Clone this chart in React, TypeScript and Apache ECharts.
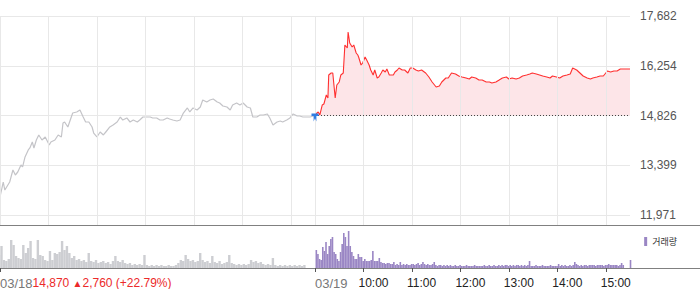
import React, { useEffect, useRef } from 'react';
import * as echarts from 'echarts';

const FONT = '"Liberation Sans", Arial, sans-serif';

// y axis (price) ticks
const yMin = 11971;
const yMax = 17682;
const yStep = 1427.75;
const yTickLabels = ['11,971', '13,399', '14,826', '16,254', '17,682'];
const basePrice = 14826.5;

// x axis: minutes from 03/18 09:00 (0..390 = 03/18, 390..780 = 03/19)
const gridMinutes = [0, 60, 120, 180, 240, 300, 360, 390, 450, 510, 570, 630, 690, 750];
const tickMinutes = [0, 390, 450, 510, 570, 630, 690, 750];
const tickLabels = ['03/18', '03/19', '10:00', '11:00', '12:00', '13:00', '14:00', '15:00'];

const priceText = '14,870 ';
const arrowText = '▲';
const changeText = '2,760 (+22.79%)';

// day 1 (03/18) price line
const day1Minutes = [0, 4, 6, 12, 16, 19, 22, 26, 28, 31, 35, 37, 40, 42, 45, 48, 52, 56, 61, 63, 68, 72, 76, 78, 80, 84, 87, 90, 95, 99, 103, 106, 110, 114, 116, 120, 124, 128, 131, 136, 140, 145, 149, 152, 157, 161, 165, 170, 173, 177, 182, 186, 189, 194, 198, 202, 207, 210, 214, 219, 223, 227, 232, 235, 239, 244, 248, 251, 256, 260, 264, 269, 272, 276, 281, 285, 288, 293, 297, 301, 306, 310, 313, 318, 322, 326, 331, 334, 338, 343, 347, 350, 355, 359, 363, 368, 371, 375, 380, 384, 388, 390];
const day1Prices = [12488, 12918, 12688, 12918, 13263, 13119, 13205, 13406, 13349, 13636, 13837, 13894, 14066, 13894, 14123, 14267, 14123, 14210, 13980, 14066, 14123, 14267, 14210, 14611, 14640, 14497, 14697, 14898, 14927, 14985, 14783, 14640, 14640, 14497, 14324, 14210, 14353, 14267, 14353, 14497, 14554, 14640, 14783, 14697, 14755, 14640, 14697, 14640, 14697, 14783, 14783, 14783, 14755, 14755, 14697, 14697, 14755, 14726, 14697, 14669, 14697, 14898, 15042, 14927, 15042, 14985, 15071, 15271, 15214, 15271, 15300, 15214, 15185, 15099, 15071, 14985, 15128, 15185, 15128, 15185, 15071, 15042, 14783, 14783, 14841, 14841, 14870, 14755, 14554, 14640, 14669, 14640, 14697, 14755, 14870, 14812, 14812, 14783, 14783, 14783, 14812, 14841];

// day 2 (03/19) price line
const day2Minutes = [391, 394, 396, 399, 401, 404, 406, 407, 410, 412, 415, 417, 420, 422, 425, 427, 430, 431, 433, 436, 438, 441, 443, 444, 447, 449, 452, 454, 457, 459, 462, 464, 467, 469, 472, 474, 477, 479, 482, 484, 487, 489, 492, 494, 498, 501, 505, 508, 511, 515, 518, 522, 527, 531, 535, 540, 544, 547, 552, 555, 559, 564, 568, 572, 577, 581, 584, 589, 593, 597, 602, 606, 609, 614, 618, 622, 627, 630, 634, 639, 643, 647, 652, 656, 659, 664, 668, 672, 677, 681, 684, 689, 693, 697, 702, 706, 709, 714, 718, 722, 727, 731, 734, 739, 743, 747, 752, 756, 760, 764, 768, 772, 777, 780];
const day2Prices = [14870, 14927, 14841, 15128, 15157, 15415, 15329, 15989, 16046, 16046, 15329, 15702, 15788, 15989, 16046, 16850, 16764, 17223, 16907, 16792, 16850, 16620, 16563, 16505, 16276, 16333, 16505, 16419, 16276, 16132, 15989, 16132, 15903, 15931, 16046, 16132, 16075, 16161, 15989, 15989, 15989, 16075, 16132, 16190, 16132, 16132, 16046, 16190, 16190, 16132, 16104, 16132, 16046, 15931, 15788, 15644, 15673, 15788, 15903, 15903, 16046, 16017, 15960, 15931, 15903, 15874, 15931, 15903, 15845, 15845, 15788, 15788, 15759, 15788, 15845, 15903, 15931, 15874, 15903, 15874, 15903, 15960, 15989, 16017, 16046, 16017, 15989, 15960, 15931, 15903, 15960, 15931, 15903, 15960, 15989, 16017, 16190, 16132, 16046, 15960, 15903, 15874, 15903, 15931, 15960, 15960, 16104, 16075, 16104, 16104, 16161, 16161, 16161, 16161];

// volumes (relative units)
const day1VolStart = 0;
const day1VolStep = 3;
const day1Vol = [13, 22, 8, 7, 9, 28, 23, 12, 10, 9, 23, 15, 20, 27, 10, 9, 28, 13, 12, 8, 7, 17, 8, 15, 14, 16, 27, 18, 22, 15, 10, 12, 8, 9, 7, 8, 6, 15, 7, 6, 8, 5, 6, 7, 5, 6, 4, 7, 12, 7, 6, 8, 5, 4, 5, 3, 4, 3, 4, 3, 13, 3, 2, 3, 2, 3, 2, 3, 2, 2, 3, 2, 2, 3, 5, 8, 7, 13, 9, 7, 8, 6, 7, 15, 8, 6, 7, 5, 12, 6, 5, 7, 4, 5, 6, 13, 5, 4, 3, 4, 3, 4, 3, 4, 8, 6, 7, 5, 6, 4, 3, 4, 3, 10, 3, 2, 3, 2, 3, 2, 3, 2, 3, 2, 3, 2, 3];
const day2VolStart = 390;
const day2VolStep = 2;
const day2Vol = [18, 14, 9, 8, 21, 17, 26, 14, 22, 29, 31, 16, 14, 9, 7, 16, 24, 35, 31, 22, 37, 22, 16, 12, 9, 9, 14, 11, 11, 7, 9, 7, 7, 7, 8, 17, 7, 7, 7, 10, 6, 5, 5, 4, 5, 5, 4, 4, 6, 3, 4, 3, 6, 3, 4, 3, 4, 3, 3, 4, 4, 3, 4, 5, 3, 4, 6, 4, 3, 4, 3, 3, 4, 6, 3, 2, 3, 3, 2, 3, 2, 3, 2, 3, 2, 2, 3, 2, 2, 3, 2, 2, 2, 3, 2, 2, 2, 2, 3, 2, 2, 2, 2, 2, 3, 2, 2, 3, 2, 2, 3, 2, 2, 3, 2, 3, 2, 3, 3, 2, 3, 2, 3, 2, 3, 3, 2, 3, 2, 3, 2, 3, 7, 2, 2, 2, 3, 2, 2, 2, 3, 2, 2, 2, 2, 3, 2, 2, 2, 2, 4, 2, 3, 2, 3, 2, 2, 3, 2, 3, 6, 4, 3, 2, 3, 2, 3, 3, 2, 3, 3, 3, 3, 2, 3, 3, 3, 3, 2, 3, 3, 4, 3, 3, 3, 3, 3, 2, 3, 5, 3];
const closeVolMinute = 779;
const closeVol = 8;

export default function App() {
  const ref = useRef<HTMLDivElement>(null);

  useEffect(() => {
    document.body.style.margin = '0';
    const chart = echarts.init(ref.current!, null, { renderer: 'svg' });

    const day1Line = day1Minutes.map((m, i) => [m, day1Prices[i]]);
    const day2Line = day2Minutes.map((m, i) => [m, day2Prices[i]]);
    const day1VolData = day1Vol.map((v, i) => [day1VolStart + i * day1VolStep, v]);
    const day2VolData = day2Vol
      .map((v, i) => [day2VolStart + i * day2VolStep, v])
      .concat([[closeVolMinute, closeVol]]);

    const option: any = {
      animation: false,
      backgroundColor: '#fff',
      textStyle: { fontFamily: FONT },
      grid: [
        { left: 0, top: 16, width: 630, height: 199 },
        { left: 0, top: 228, width: 630, height: 40 },
        { left: 0, top: 16, width: 630, height: 209 },
      ],
      legend: {
        data: ['거래량'],
        right: 18,
        top: 232,
        icon: 'rect',
        itemWidth: 3,
        itemHeight: 9,
        selectedMode: false,
        textStyle: { fontSize: 9, color: '#333', fontFamily: '"Noto Sans CJK KR", sans-serif' },
      },
      xAxis: [
        { type: 'value', gridIndex: 0, min: 0, max: 780, show: false },
        {
          type: 'value', gridIndex: 1, min: 0, max: 780,
          axisLine: { show: false },
          axisTick: { show: true, customValues: tickMinutes, length: 4, lineStyle: { color: '#555' } },
          axisLabel: { show: false },
          splitLine: { show: false },
        },
        { type: 'value', gridIndex: 2, min: 0, max: 780, show: false },
      ],
      yAxis: [
        {
          type: 'value', gridIndex: 0, position: 'right', min: yMin, max: yMax, interval: yStep,
          axisLine: { show: false }, axisTick: { show: false },
          splitLine: { lineStyle: { color: '#e8e8e8', width: 1 } },
          axisLabel: {
            margin: 10, color: '#555', fontSize: 12, fontFamily: FONT,
            formatter: (v: number) => yTickLabels[Math.round((v - yMin) / yStep)] ?? '',
          },
        },
        { type: 'value', gridIndex: 1, min: 0, max: 40, show: false },
        { type: 'value', gridIndex: 2, min: 0, max: 1, show: false },
      ],
      series: [
        {
          type: 'line', xAxisIndex: 2, yAxisIndex: 2, data: [[0, 0]], z: 0,
          showSymbol: false, symbol: 'none', lineStyle: { opacity: 0 }, silent: true,
          markLine: {
            silent: true, symbol: 'none', label: { show: false },
            lineStyle: { color: '#e8e8e8', width: 1, type: 'solid' },
            data: gridMinutes.map((m) => ({ xAxis: m })),
          },
        },
        {
          type: 'line', name: '03/18', xAxisIndex: 0, yAxisIndex: 0, data: day1Line, z: 3,
          showSymbol: false, symbol: 'none',
          lineStyle: { color: '#c4c4c8', width: 1.2 },
        },
        {
          type: 'line', name: '03/19', xAxisIndex: 0, yAxisIndex: 0, data: day2Line, z: 4,
          showSymbol: false, symbol: 'none',
          lineStyle: { color: '#ff3030', width: 1.1 },
          areaStyle: { color: '#fde5e8', opacity: 1, origin: basePrice },
          markLine: {
            silent: true, symbol: 'none', label: { show: false },
            lineStyle: { color: '#444', width: 1, type: [1, 2] },
            data: [[{ coord: [390, basePrice] }, { coord: [780, basePrice] }]],
          },
          markPoint: {
            silent: true,
            symbol: 'path://M0,0 L10,0 L10,3 L7,3 L7,10 L5,6 L3,10 L3,3 L0,3 Z',
            symbolSize: [7, 8],
            symbolOffset: [0, 2],
            itemStyle: { color: '#2f7de1' },
            label: { show: false },
            data: [{ coord: [390, basePrice] }],
          },
        },
        {
          type: 'bar', name: '거래량전일', xAxisIndex: 1, yAxisIndex: 1, data: day1VolData,
          barWidth: 2.4, itemStyle: { color: '#cdced2' }, z: 2,
        },
        {
          type: 'bar', name: '거래량', xAxisIndex: 1, yAxisIndex: 1, data: day2VolData,
          barWidth: 1.6, itemStyle: { color: '#9a86c4' }, z: 2,
        },
      ],
    };

    chart.setOption(option);

    const labelGraphics: any[] = tickMinutes.map((m, i) => {
      const x = chart.convertToPixel({ xAxisIndex: 1 }, m) as number;
      if (i === 0) {
        return {
          type: 'text', x, y: 283,
          style: {
            text: `{d|${tickLabels[0]}}{r|${priceText}}{a|${arrowText}}{r|${changeText}}`,
            verticalAlign: 'middle', align: 'left',
            rich: {
              d: { fill: '#777', fontSize: 13, fontFamily: FONT },
              r: { fill: '#ec2a2a', fontSize: 12, fontFamily: FONT },
              a: { fill: '#ec2a2a', fontSize: 10, fontFamily: FONT },
            },
          },
        };
      }
      const isDate = i === 1;
      return {
        type: 'text', x: isDate ? x : x - 5, y: 283,
        style: {
          text: tickLabels[i], align: 'left', verticalAlign: 'middle',
          fill: isDate ? '#777' : '#222', fontSize: isDate ? 13 : 12, fontFamily: FONT,
        },
      };
    });

    chart.setOption({
      graphic: [
        { type: 'line', shape: { x1: 0, y1: 225.5, x2: 700, y2: 225.5 }, style: { stroke: '#808080', lineWidth: 1 } },
        { type: 'line', shape: { x1: 0, y1: 268.5, x2: 700, y2: 268.5 }, style: { stroke: '#808080', lineWidth: 1 } },
        ...labelGraphics,
      ],
    });

    return () => chart.dispose();
  }, []);

  return <div ref={ref} style={{ width: 700, height: 289 }} />;
}
